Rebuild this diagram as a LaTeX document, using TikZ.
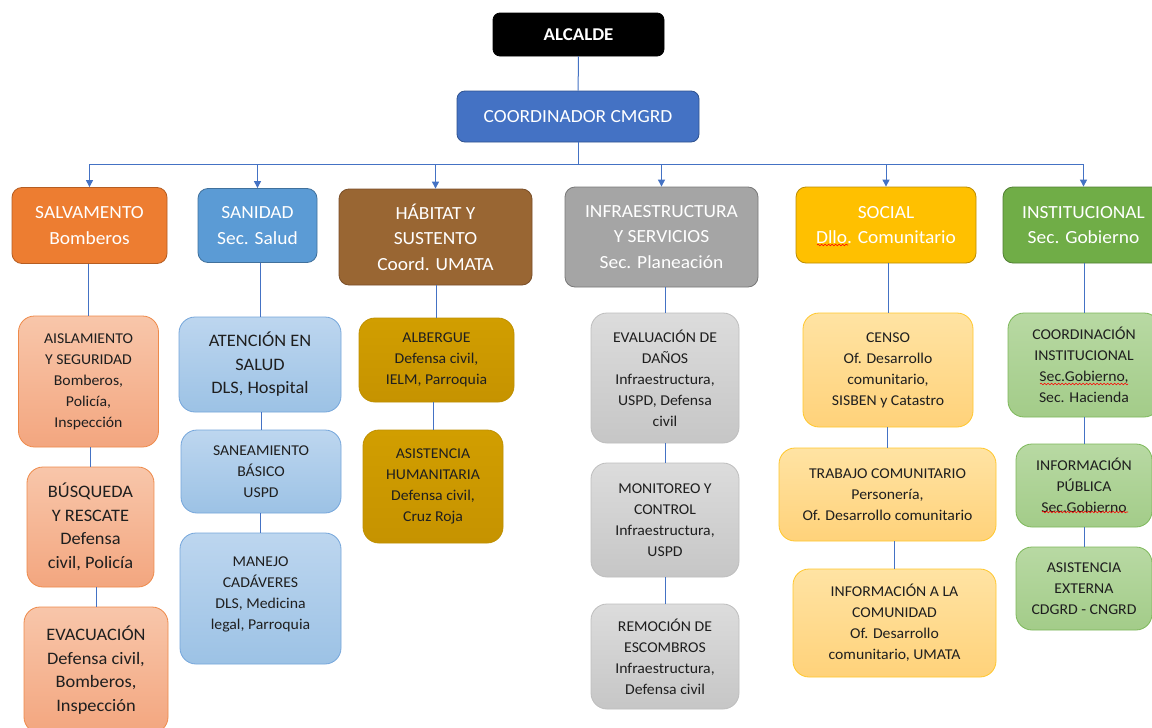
\documentclass[tikz,border=0pt]{standalone}
\usepackage{fontspec}
\setmainfont{Carlito}[FakeStretch=1.05]
\usepackage{tikz}
\usetikzlibrary{arrows.meta}
\usetikzlibrary{decorations.pathmorphing}
\definecolor{line}{HTML}{4472C4}
\definecolor{txt}{HTML}{1F1F1F}
\definecolor{coordF}{HTML}{4472C4}\definecolor{coordE}{HTML}{2F528F}
\definecolor{salvF}{HTML}{ED7D31}\definecolor{salvE}{HTML}{B55D22}
\definecolor{sanidF}{HTML}{5B9BD5}\definecolor{sanidE}{HTML}{41719C}
\definecolor{habitF}{HTML}{996633}\definecolor{habitE}{HTML}{7A4F28}
\definecolor{infraF}{HTML}{A5A5A5}\definecolor{infraE}{HTML}{787878}
\definecolor{socialF}{HTML}{FFC000}\definecolor{socialE}{HTML}{BC8C00}
\definecolor{instF}{HTML}{70AD47}\definecolor{instE}{HTML}{507E32}
\definecolor{salvT}{HTML}{F8C6AA}\definecolor{salvB}{HTML}{F3A67F}\definecolor{salvL}{HTML}{EE8A4A}
\definecolor{sanidT}{HTML}{BDD6EF}\definecolor{sanidB}{HTML}{9CC2E5}\definecolor{sanidL}{HTML}{75A6DB}
\definecolor{habitT}{HTML}{D19E00}\definecolor{habitB}{HTML}{C69300}\definecolor{habitL}{HTML}{BF9000}
\definecolor{infraT}{HTML}{DCDCDC}\definecolor{infraB}{HTML}{C6C6C6}\definecolor{infraL}{HTML}{BEBEBE}
\definecolor{socialT}{HTML}{FFE3A3}\definecolor{socialB}{HTML}{FFD27A}\definecolor{socialL}{HTML}{FFC72C}
\definecolor{instT}{HTML}{B8D9A3}\definecolor{instB}{HTML}{A3CC89}\definecolor{instL}{HTML}{7DB85A}

\begin{document}
\begin{tikzpicture}[x=1pt,y=-1pt,
	cat/.style={rounded corners=10pt,inner sep=0pt,align=center,text=white,line width=.8pt,font=\fontsize{18.5}{25.5}\selectfont},
	sub/.style={rounded corners=16pt,inner sep=0pt,align=center,text=txt,line width=.8pt,font=\fontsize{15}{21}\selectfont},
	big/.style={font=\fontsize{17.5}{23.5}\selectfont},
	wh/.style 2 args={minimum width=#1pt,minimum height=#2pt},
	link/.style={draw=line,line width=1pt},
	spell/.style={red,line width=.6pt,decorate,decoration={snake,amplitude=.8pt,segment length=3.5pt}},
	salvsub/.style={sub,top color=salvT,bottom color=salvB,draw=salvL},
	sanidsub/.style={sub,top color=sanidT,bottom color=sanidB,draw=sanidL},
	habitsub/.style={sub,top color=habitT,bottom color=habitB,draw=habitL},
	infrasub/.style={sub,top color=infraT,bottom color=infraB,draw=infraL},
	socialsub/.style={sub,top color=socialT,bottom color=socialB,draw=socialL},
	instsub/.style={sub,top color=instT,bottom color=instB,draw=instL}]
	\clip (0,0) rectangle (1152,728);
	\fill[white] (0,0) rectangle (1152,728);

	\node[cat,fill=black,draw=black,wh={171}{43},rounded corners=7pt,font=\bfseries\fontsize{18}{22}\selectfont] (alcalde) at (578.5,34.5) {ALCALDE};
	\node[cat,fill=coordF,draw=coordE,wh={242}{51},rounded corners=8pt] (coord) at (578,116.5) {COORDINADOR CMGRD};

	\node[cat,fill=salvF,draw=salvE,wh={155}{76}] (salv) at (89.5,225.5) {SALVAMENTO\\Bomberos};
	\node[cat,fill=sanidF,draw=sanidE,wh={119}{74}] (sanid) at (257.5,225.5) {SANIDAD\\Sec. Salud};
	\node[cat,fill=habitF,draw=habitE,wh={193}{96}] (habit) at (435.5,237) {HÁBITAT Y\\SUSTENTO\\Coord. UMATA};
	\node[cat,fill=infraF,draw=infraE,wh={193}{100}] (infra) at (661.5,237) {INFRAESTRUCTURA\\Y SERVICIOS\\Sec. Planeación};
	\node[cat,fill=socialF,draw=socialE,wh={180}{76}] (social) at (886,225) {SOCIAL\\Dllo. Comunitario};
	\node[cat,fill=instF,draw=instE,wh={161}{76}] (inst) at (1083.5,225) {INSTITUCIONAL\\Sec. Gobierno};

	\node[salvsub,wh={140}{131}] (aisl) at (88.5,381.5) {AISLAMIENTO\\Y SEGURIDAD\\Bomberos,\\Policía,\\Inspección};
	\node[salvsub,big,wh={127}{120}] (busq) at (90.5,527) {BÚSQUEDA\\Y RESCATE\\Defensa\\civil, Policía};
	\node[salvsub,big,wh={144}{126}] (evac) at (96,670) {EVACUACIÓN\\Defensa civil,\\Bomberos,\\Inspección};

	\node[sanidsub,big,wh={162}{95}] (atenc) at (260,364.5) {ATENCIÓN EN\\SALUD\\DLS, Hospital};
	\node[sanidsub,wh={160}{83}] (sanea) at (261,471.5) {SANEAMIENTO\\BÁSICO\\USPD};
	\node[sanidsub,wh={161}{131}] (manejo) at (260.5,598.5) {MANEJO\\CADÁVERES\\DLS, Medicina\\legal, Parroquia\\[-11pt]\mbox{}};

	\node[habitsub,wh={155}{84}] (alber) at (436.5,360) {ALBERGUE\\Defensa civil,\\IELM, Parroquia};
	\node[habitsub,wh={140}{113}] (asist) at (433,486.5) {ASISTENCIA\\HUMANITARIA\\Defensa civil,\\Cruz Roja};

	\node[infrasub,wh={148}{130}] (evalu) at (665,378) {EVALUACIÓN DE\\DAÑOS\\Infraestructura,\\USPD, Defensa\\civil};
	\node[infrasub,wh={148}{114}] (monit) at (665,520) {MONITOREO Y\\CONTROL\\Infraestructura,\\USPD};
	\node[infrasub,wh={148}{105}] (remoc) at (665,656.5) {REMOCIÓN DE\\ESCOMBROS\\Infraestructura,\\Defensa civil};

	\node[socialsub,wh={170}{114}] (censo) at (888,370) {CENSO\\Of. Desarrollo\\comunitario,\\SISBEN y Catastro};
	\node[socialsub,wh={217}{93}] (trab) at (887.5,494.5) {TRABAJO COMUNITARIO\\Personería,\\Of. Desarrollo comunitario};
	\node[socialsub,wh={203}{108}] (infcom) at (894.5,623) {INFORMACIÓN A LA\\COMUNIDAD\\Of. Desarrollo\\comunitario, UMATA};

	\node[instsub,wh={152}{104}] (coordi) at (1084,365) {COORDINACIÓN\\INSTITUCIONAL\\Sec.Gobierno,\\Sec. Hacienda};
	\node[instsub,wh={136}{83}] (infpub) at (1084,485.5) {INFORMACIÓN\\PÚBLICA\\Sec.Gobierno};
	\node[instsub,wh={136}{83}] (asisext) at (1084,588.5) {ASISTENCIA\\EXTERNA\\CDGRD - CNGRD};

	\draw[spell] (817,245) -- (848,245);
	\draw[spell] (1040,384) -- (1128,384);
	\draw[spell] (1042,512) -- (1128,512);

	\coordinate (bus) at (0,164);
	\draw[link] (alcalde) -- (coord);
	\draw[link] (coord.south) -- (coord.south |- bus);
	\draw[link] (salv.north |- bus) -- (inst.north |- bus);
	\foreach \n in {salv,sanid,habit,infra,social,inst}
		\draw[link,-{Triangle[length=7pt,width=7pt]}] (\n.north |- bus) -- (\n.north);
	\foreach \a/\b in {salv/aisl,aisl/busq,busq/evac,sanid/atenc,atenc/sanea,sanea/manejo,habit/alber,alber/asist,infra/evalu,evalu/monit,monit/remoc,social/censo,censo/trab,trab/infcom,inst/coordi,coordi/infpub,infpub/asisext}
		\draw[link] (\b.north |- \a.south) -- (\b.north);
\end{tikzpicture}
\end{document}
